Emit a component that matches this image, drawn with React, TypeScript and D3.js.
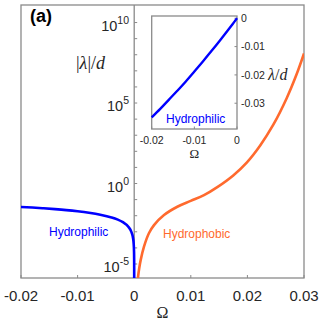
import React from "react";
import * as d3 from "d3";

// ---- data ----
const blueOmega = [-0.02, -0.018, -0.016, -0.014, -0.012, -0.01, -0.008, -0.006, -0.004, -0.003, -0.002, -0.001, -0.0005, -0.0002, -0.0001, -0.00003, -0.00001, -0.000003, -0.000001, -0.0000003];
const blueLambda = [-0.035, -0.032, -0.0288, -0.0256, -0.0223, -0.0188, -0.01525, -0.0116, -0.00783, -0.00591, -0.00397, -0.002, -0.001, -0.0004, -0.0002, -0.00006, -0.00002, -0.000006, -0.000002, -0.0000006];
const orangeOmega = [0.0004, 0.0007, 0.0009, 0.00115, 0.00173, 0.0026, 0.0035, 0.00527, 0.00762, 0.00998, 0.01233, 0.01468, 0.0175, 0.01988, 0.02223, 0.02458, 0.02694, 0.02871, 0.03];
const orangeLambda = [1.3e-7, 1.8e-6, 5.8e-6, 1.8e-5, 1.2e-4, 8.1e-4, 2.6e-3, 1.1e-2, 3.6e-2, 8.3e-2, 0.19, 0.6, 3.2, 20, 224, 4.5e3, 2.0e5, 6.3e6, 1.2e8];

const xTicks = [-0.02, -0.01, 0, 0.01, 0.02, 0.03];
const xTickLabels = ["-0.02", "-0.01", "0", "0.01", "0.02", "0.03"];
const yTickExps = [-5, -4, -3, -2, -1, 0, 1, 2, 3, 4, 5, 6, 7, 8, 9, 10];
const yLabelExps = [-5, 0, 5, 10];
const insetXTicks = [-0.02, -0.01, 0];
const insetXTickLabels = ["-0.02", "-0.01", "0"];
const insetYTicks = [0, -0.01, -0.02, -0.03];
const insetYTickLabels = ["0", "-0.01", "-0.02", "-0.03"];

const BLUE = "#0000ff";
const ORANGE = "#ff6a2e";
const FRAME = "#8a8a8a";
const TXT = "#262626";
const SANS = "'Liberation Sans', Arial, sans-serif";
const SERIF = "'Liberation Serif', 'Times New Roman', serif";

export default function App() {
  const L = 21, R = 304, T = 5, B = 278;
  const x = d3.scaleLinear().domain([-0.02, 0.03]).range([L, R]);
  const y = d3.scaleLog().domain([Math.pow(10, -5.87), Math.pow(10, 11.09)]).range([B, T]);
  const x0 = x(0);

  const blueData = blueOmega.map((o, i) => [o, Math.abs(blueLambda[i])] as [number, number]);
  const orangeData = orangeOmega.map((o, i) => [o, orangeLambda[i]] as [number, number]);
  const blueLine = d3.line<[number, number]>().x(d => x(d[0])).y(d => y(d[1])).curve(d3.curveMonotoneX);
  const orangeLine = d3.line<[number, number]>().x(d => x(d[0])).y(d => y(d[1])).curve(d3.curveCatmullRom.alpha(0.5));

  // inset
  const IL = 151.7, IR = 237, IT = 16, IB = 129;
  const ix = d3.scaleLinear().domain([-0.02, 0]).range([IL, IR]);
  const iy = d3.scaleLinear().domain([-0.0391, 0.0008]).range([IB, IT]);
  const insetData = blueOmega.map((o, i) => [o, blueLambda[i]] as [number, number]).concat([[0, 0]]);
  const insetLine = d3.line<[number, number]>().x(d => ix(d[0])).y(d => iy(d[1])).curve(d3.curveMonotoneX);

  return (
    <svg width={324} height={324} style={{ position: "absolute", left: 0, top: 0, background: "#fff" }}>
      <defs>
        <clipPath id="mainclip"><rect x={L} y={T} width={R - L} height={B - T} /></clipPath>
      </defs>
      <rect x={0} y={0} width={324} height={324} fill="#fff" />
      {/* frame */}
      <rect x={L} y={T} width={R - L} height={B - T} fill="none" stroke={FRAME} strokeWidth={1.3} />
      {/* y axis at origin */}
      <line x1={x0} x2={x0} y1={T} y2={B} stroke={FRAME} strokeWidth={1.3} />
      {yTickExps.map(e => (
        <line key={"yt" + e} x1={x0} x2={x0 + 3} y1={y(Math.pow(10, e))} y2={y(Math.pow(10, e))} stroke={FRAME} strokeWidth={1} />
      ))}
      {xTicks.map(t => (
        <line key={"xt" + t} x1={x(t)} x2={x(t)} y1={B} y2={B - 3} stroke={FRAME} strokeWidth={1} />
      ))}
      {xTicks.map((t, i) => (
        <text key={"xl" + t} x={x(t)} y={301} textAnchor="middle" fontFamily={SANS} fontSize={15} fill={TXT}>{xTickLabels[i]}</text>
      ))}
      {yLabelExps.map(e => (
        <text key={"yl" + e} x={129} y={y(Math.pow(10, e)) + 8} textAnchor="end" fontFamily={SANS} fontSize={14.5} fill={TXT}>
          10<tspan fontSize={10.5} dy={-7}>{String(e)}</tspan>
        </text>
      ))}
      {/* curves */}
      <g clipPath="url(#mainclip)">
        <path d={blueLine(blueData) || ""} fill="none" stroke={BLUE} strokeWidth={2.6} />
        <path d={orangeLine(orangeData) || ""} fill="none" stroke={ORANGE} strokeWidth={2.6} />
      </g>
      {/* labels */}
      <text x={30} y={22} fontFamily={SANS} fontWeight="bold" fontSize={18} fill="#000">(a)</text>
      <text x={76} y={69} fontFamily={SERIF} fontSize={18} fill={TXT}>
        |<tspan fontStyle="italic">λ</tspan>|/<tspan fontStyle="italic">d</tspan>
      </text>
      <text x={162.5} y={318} textAnchor="middle" fontFamily={SERIF} fontSize={16} fill={TXT}>Ω</text>
      <text x={49} y={236} fontFamily={SANS} fontSize={12} fill={BLUE}>Hydrophilic</text>
      <text x={163} y={238} fontFamily={SANS} fontSize={12} fill={ORANGE}>Hydrophobic</text>

      {/* inset */}
      <rect x={IL} y={IT} width={IR - IL} height={IB - IT} fill="#fff" stroke={FRAME} strokeWidth={1.3} />
      {insetXTicks.map(t => (
        <line key={"ixt" + t} x1={ix(t)} x2={ix(t)} y1={IB} y2={IB - 2.5} stroke={FRAME} strokeWidth={1} />
      ))}
      {insetYTicks.map(t => (
        <line key={"iyt" + t} x1={IR} x2={IR - 2.5} y1={iy(t)} y2={iy(t)} stroke={FRAME} strokeWidth={1} />
      ))}
      <path d={insetLine(insetData) || ""} fill="none" stroke={BLUE} strokeWidth={2.4} />
      {insetXTicks.map((t, i) => (
        <text key={"ixl" + t} x={ix(t)} y={144} textAnchor="middle" fontFamily={SANS} fontSize={10.5} fill={TXT}>{insetXTickLabels[i]}</text>
      ))}
      {insetYTicks.map((t, i) => (
        <text key={"iyl" + t} x={241} y={iy(t) + 3.8} fontFamily={SANS} fontSize={10.5} fill={TXT}>{insetYTickLabels[i]}</text>
      ))}
      <text x={194.3} y={158} textAnchor="middle" fontFamily={SERIF} fontSize={13} fill={TXT}>Ω</text>
      <text x={268} y={80} fontFamily={SERIF} fontSize={16} fill={TXT}>
        <tspan fontStyle="italic">λ</tspan>/<tspan fontStyle="italic">d</tspan>
      </text>
      <text x={166} y={123} fontFamily={SANS} fontSize={12} fill={BLUE}>Hydrophilic</text>
    </svg>
  );
}
